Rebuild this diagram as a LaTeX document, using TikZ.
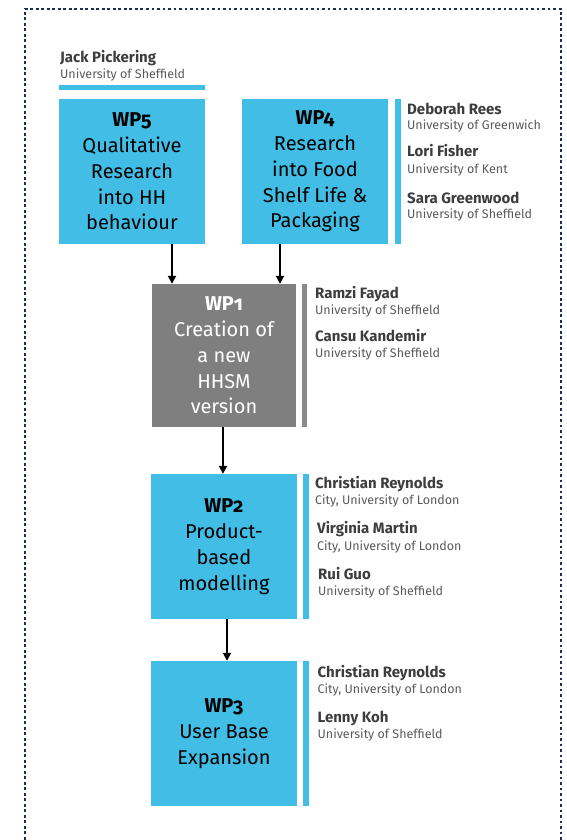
\documentclass[tikz,border=0pt]{standalone}
\usepackage{fontspec}
\setmainfont{Fira Sans}[Numbers=OldStyle]
\usetikzlibrary{arrows.meta,positioning}

\definecolor{wpblue}{HTML}{42BEE6}
\definecolor{wpgrey}{HTML}{7F7F7F}
\definecolor{bargrey}{HTML}{8A8A8A}
\definecolor{framenavy}{HTML}{1A2E58}
\definecolor{nametext}{HTML}{3D3D3D}
\definecolor{unitext}{HTML}{5A5A5A}

\tikzset{
  wpbox/.style={fill=wpblue, minimum width=146pt, minimum height=145pt,
    inner sep=0pt, align=center, font=\fontsize{20}{25.8}\selectfont},
  greybox/.style={wpbox, fill=wpgrey, text=white, minimum width=144pt, minimum height=143pt},
  who/.style={anchor=base west, inner sep=0pt, text=nametext,
    font=\fontsize{15}{17}\selectfont\bfseries},
  uni/.style={anchor=base west, inner sep=0pt, text=unitext,
    font=\fontsize{12.5}{14}\selectfont},
  flow/.style={line width=1.8pt, -{Triangle[width=8pt,length=8pt]}},
}

\begin{document}
\begin{tikzpicture}[x=1pt,y=-1pt]
  \useasboundingbox (0,0) rectangle (567,840);
  % dotted frame, open at the bottom
  \draw[framenavy, line width=2.6pt, dash pattern=on 2.6pt off 2.9pt]
    (25,845) -- (25,9) -- (561,9) -- (561,845);

  % work packages
  \node[wpbox] (wp5) at (132,171.5) {\textbf{WP5}\\Qualitative\\Research\\into HH\\behaviour};
  \node[wpbox] (wp4) at (315,171.5) {\textbf{WP4}\\Research\\into Food\\Shelf Life \&\\Packaging};
  \node[greybox] (wp1) at (224,355.5) {\textbf{WP1}\\Creation of\\a new\\HHSM\\version};
  \node[wpbox] (wp2) at (224,546.5) {\textbf{WP2}\\Product-\\based\\modelling};
  \node[wpbox] (wp3) at (224,733.5) {\textbf{WP3}\\User Base\\Expansion};

  % side bars
  \fill[wpblue] ([yshift=9pt]wp5.north west) rectangle ([yshift=14pt]wp5.north east);
  \fill[wpblue] ([xshift=7pt]wp4.north east) rectangle ([xshift=13pt]wp4.south east);
  \fill[bargrey] ([xshift=6pt]wp1.north east) rectangle ([xshift=11pt]wp1.south east);
  \fill[wpblue] ([xshift=6pt]wp2.north east) rectangle ([xshift=12pt]wp2.south east);
  \fill[wpblue] ([xshift=6pt]wp3.north east) rectangle ([xshift=12pt]wp3.south east);

  % arrows
  \draw[flow] ([xshift=40pt]wp5.south) -- ([xshift=40pt]wp5.south |- wp1.north);
  \draw[flow] ([xshift=-35pt]wp4.south) -- ([xshift=-35pt]wp4.south |- wp1.north);
  \draw[flow] ([xshift=-1pt]wp1.south) -- ([xshift=-1pt]wp1.south |- wp2.north);
  \draw[flow] ([xshift=3pt]wp2.south) -- ([xshift=3pt]wp2.south |- wp3.north);

  % people
  \node[who] (pickering) at (60,63) {Jack Pickering};
  \node[uni] (pickering-uni) at ([yshift=-16pt]pickering.base west) {University of Sheffield};

  \node[who] (rees) at (407,114) {Deborah Rees};
  \node[uni] (rees-uni) at ([yshift=-15.5pt]rees.base west) {University of Greenwich};
  \node[who] (fisher) at (407,157) {Lori Fisher};
  \node[uni] (fisher-uni) at ([yshift=-16pt]fisher.base west) {University of Kent};
  \node[who] (greenwood) at (407,203) {Sara Greenwood};
  \node[uni] (greenwood-uni) at ([yshift=-15.5pt]greenwood.base west) {University of Sheffield};

  \node[who] (fayad) at (315,298) {Ramzi Fayad};
  \node[uni] (fayad-uni) at ([yshift=-16pt]fayad.base west) {University of Sheffield};
  \node[who] (kandemir) at (315,341.5) {Cansu Kandemir};
  \node[uni] (kandemir-uni) at ([yshift=-15.5pt]kandemir.base west) {University of Sheffield};

  \node[who] (reynolds) at (315,488.5) {Christian Reynolds};
  \node[uni] (reynolds-uni) at ([yshift=-16pt]reynolds.base west) {City, University of London};
  \node[who] (martin) at (317,533.5) {Virginia Martin};
  \node[uni] (martin-uni) at ([yshift=-16.5pt]martin.base west) {City, University of London};
  \node[who] (guo) at (318,579) {Rui Guo};
  \node[uni] (guo-uni) at ([yshift=-16.5pt]guo.base west) {University of Sheffield};

  \node[who] (reynolds3) at (317.5,677.5) {Christian Reynolds};
  \node[uni] (reynolds3-uni) at ([yshift=-16pt]reynolds3.base west) {City, University of London};
  \node[who] (koh) at (317.5,722.5) {Lenny Koh};
  \node[uni] (koh-uni) at ([yshift=-16pt]koh.base west) {University of Sheffield};
\end{tikzpicture}
\end{document}
